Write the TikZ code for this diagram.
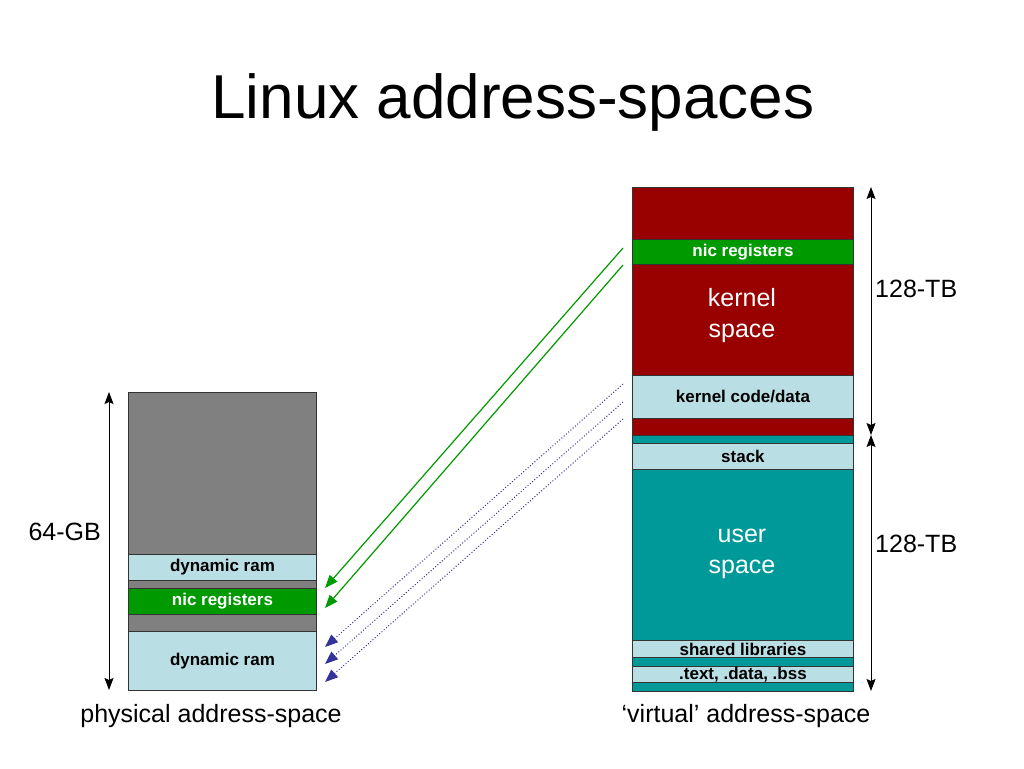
\documentclass[tikz,border=0pt]{standalone}
\usepackage{fontspec}
\setmainfont{Liberation Sans}
\usetikzlibrary{arrows.meta}

\definecolor{krnred}{RGB}{153,0,0}
\definecolor{nicgreen}{RGB}{0,153,0}
\definecolor{usrteal}{RGB}{0,153,153}
\definecolor{ramblue}{RGB}{185,222,228}
\definecolor{memgray}{RGB}{128,128,128}
\definecolor{mapblue}{RGB}{51,51,153}

\tikzset{
  seg/.style={draw=black!80, line width=0.9pt, inner sep=0pt, anchor=north west,
    font=\bfseries\fontsize{17}{19}\selectfont},
  physseg/.style={seg, minimum width=188pt},
  virtseg/.style={seg, minimum width=221pt},
  biglbl/.style={font=\fontsize{25}{31}\selectfont, inner sep=0pt},
  spacelbl/.style={biglbl, text=white, align=center},
  sizearrow/.style={{Stealth[length=12pt,width=9pt,inset=2pt]}-{Stealth[length=12pt,width=9pt,inset=2pt]}, line width=1pt},
  mapgreen/.style={-{Triangle[length=13pt,width=10pt]}, nicgreen, line width=1.2pt},
  mapdot/.style={-{Triangle[length=13pt,width=10pt]}, mapblue, line width=1pt, dotted}
}

\begin{document}
\begin{tikzpicture}[x=1pt,y=-1pt]
    \useasboundingbox (0,0) rectangle (1024,768);

    \node[font=\fontsize{62}{70}\selectfont, anchor=base, inner sep=0pt] (title) at (513,118) {Linux address-spaces};

    % physical address-space
    \node[physseg, fill=memgray, minimum height=162pt] (pgray1) at (128,392) {};
    \node[physseg, fill=ramblue, minimum height=26pt] (pram1) at (128,554) {dynamic ram};
    \node[physseg, fill=memgray, minimum height=8pt] (pgray2) at (128,580) {};
    \node[physseg, fill=nicgreen, text=white, minimum height=26pt] (pnic) at (128,588) {nic registers};
    \node[physseg, fill=memgray, minimum height=17pt] (pgray3) at (128,614) {};
    \node[physseg, fill=ramblue, minimum height=59pt] (pram2) at (128,631) {dynamic ram};

    % virtual address-space
    \node[virtseg, fill=krnred, minimum height=52pt] (vk1) at (632,187) {};
    \node[virtseg, fill=nicgreen, text=white, minimum height=25pt] (vnic) at (632,239) {nic registers};
    \node[virtseg, fill=krnred, minimum height=111pt] (vkernel) at (632,264) {};
    \node[virtseg, fill=ramblue, minimum height=43pt] (vcode) at (632,375) {kernel code/data};
    \node[virtseg, fill=krnred, minimum height=17pt] (vk2) at (632,418) {};
    \node[virtseg, fill=usrteal, minimum height=8pt] (vu1) at (632,435) {};
    \node[virtseg, fill=ramblue, minimum height=26pt] (vstack) at (632,443) {stack};
    \node[virtseg, fill=usrteal, minimum height=171pt] (vuser) at (632,469) {};
    \node[virtseg, fill=ramblue, minimum height=17pt] (vlib) at (632,640) {shared libraries};
    \node[virtseg, fill=usrteal, minimum height=9pt] (vu2) at (632,657) {};
    \node[virtseg, fill=ramblue, minimum height=16pt] (vtext) at (632,666) {.text, .data, .bss};
    \node[virtseg, fill=usrteal, minimum height=9pt] (vu3) at (632,682) {};

    \node[spacelbl] (klbl) at (742,316) {kernel\\space};
    \node[spacelbl] (ulbl) at (742,554) {user\\space};

    % sizes
    \coordinate (gtop) at (109,392);
    \coordinate (gbot) at (109,690);
    \coordinate (ktop) at (871,187);
    \coordinate (kmid) at (871,435);
    \coordinate (kbot) at (871,691);
    \draw[sizearrow] (gtop) -- (gbot);
    \draw[sizearrow] (ktop) -- (kmid);
    \draw[sizearrow] (kmid) -- (kbot);

    \node[biglbl, anchor=base east] (gblbl) at (101,540) {64-GB};
    \node[biglbl, anchor=base west] (tbk) at (875,297) {128-TB};
    \node[biglbl, anchor=base west] (tbu) at (875,552) {128-TB};

    \node[biglbl, anchor=base] (physlbl) at (211,722) {physical address-space};
    \node[biglbl, anchor=base] (virtlbl) at (746,722) {‘virtual’ address-space};

    % mappings
    \foreach \i/\ys/\ye in {1/248/588, 2/265/608} {
        \coordinate (ns\i) at (623,\ys);
        \coordinate (ne\i) at (325,\ye);
        \draw[mapgreen] (ns\i) -- (ne\i);
    }
    \foreach \i/\ys/\ye in {1/384/647, 2/402/664, 3/419/682} {
        \coordinate (cs\i) at (623,\ys);
        \coordinate (ce\i) at (325,\ye);
        \draw[mapdot] (cs\i) -- (ce\i);
    }
\end{tikzpicture}
\end{document}
